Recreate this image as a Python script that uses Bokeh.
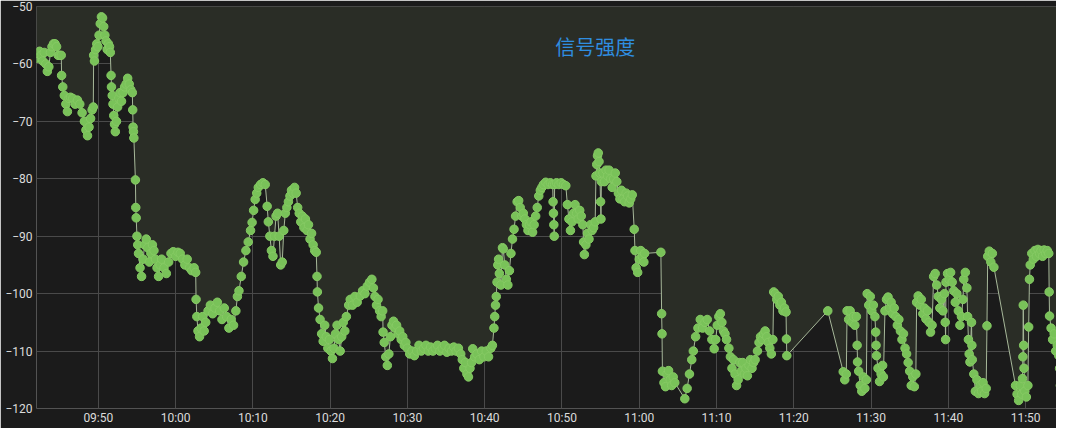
from bokeh.plotting import figure
from bokeh.models import Label, FixedTicker, Range1d
from bokeh.embed import file_html
from bokeh.resources import INLINE

# signal strength (dBm) vs minutes after 09:00
seg_0942 = [(42.0,-59.0),(42.2,-58.2),(42.4,-57.8),(42.6,-58.5),(42.8,-59.5),(43.0,-58.0),(43.2,-60.0),
            (43.4,-61.3),(43.6,-60.5),(43.8,-58.0),(44.0,-57.0),(44.2,-56.5),(44.4,-56.5),(44.6,-57.0),
            (44.8,-58.5),(45.0,-58.5),(45.2,-58.5),(45.25,-62.0),
            (45.4,-64.0),(45.6,-65.5),(45.8,-67.0),(46.0,-68.3),(46.2,-66.0),(46.4,-65.8),(46.7,-66.0),
            (47.0,-67.0),(47.3,-66.3),(47.6,-67.0),(47.9,-68.5),(48.2,-70.0),(48.4,-71.5),(48.6,-72.5),
            (48.8,-71.0),(49.0,-69.5),(49.2,-68.0),(49.35,-67.5)]
seg_0950 = [(49.4,-58.5),(49.5,-59.5),(49.65,-57.5),(49.8,-56.5),(49.95,-57.0),(50.1,-55.0),(50.25,-53.0),
            (50.4,-51.8),(50.55,-52.0),(50.7,-53.5),(50.85,-55.0),(51.0,-56.0),(51.15,-57.5),(51.3,-56.5),
            (51.45,-57.0),(51.55,-58.0),(51.65,-62.0),(51.7,-64.0),(51.8,-65.5),
            (51.9,-67.0),(52.0,-69.0),(52.1,-70.5),(52.2,-71.8),(52.35,-70.0),(52.5,-67.5),(52.65,-66.0),
            (52.8,-65.0),(53.0,-66.5),(53.2,-65.0),(53.4,-64.0),(53.6,-63.5),(53.8,-62.5),(54.0,-63.5),
            (54.2,-64.5),(54.4,-65.0),(54.45,-68.0),(54.5,-71.0),(54.55,-71.8),(54.6,-72.9),
            (54.8,-80.2),(54.85,-85.0),(54.9,-86.8),(55.0,-90.0),(55.1,-91.5)]
seg_0955 = [(55.2,-93.0),(55.4,-95.5),(55.6,-97.0),(55.8,-94.0),(56.0,-91.5),(56.2,-90.5),(56.4,-92.0),
            (56.6,-94.5),(56.8,-93.0),(57.0,-91.5),(57.2,-92.5),(57.4,-94.0),(57.6,-95.5),(57.8,-97.0),
            (58.0,-95.0),(58.2,-94.0),(58.5,-95.5),(58.8,-96.5),(59.1,-94.5),(59.4,-93.0),(59.7,-92.7),
            (60.0,-93.5),(60.3,-92.8),(60.6,-93.0),(60.9,-94.0),(61.2,-95.0),(61.5,-94.0),(61.8,-95.5),
            (62.1,-96.0),(62.4,-95.5),(62.6,-96.3),(62.65,-101.0)]
seg_1003 = [(62.75,-104.0),(62.9,-106.5),(63.1,-107.5),(63.3,-106.0),(63.5,-104.0),(63.7,-106.5),
            (63.9,-105.0),(64.2,-103.0),(64.5,-102.0),(64.8,-103.5),(65.1,-102.5),(65.4,-101.5),
            (65.7,-103.0),(66.0,-104.5),(66.3,-102.5),(66.6,-104.0),(66.9,-106.0),(67.2,-104.5),
            (67.5,-105.5),(67.8,-103.0),(68.0,-100.5),(68.2,-99.5),
            (68.5,-97.0),(68.8,-94.5),(69.1,-92.5),(69.4,-91.0),(69.7,-89.0),(69.9,-87.6),(70.1,-85.5),
            (70.3,-83.6),(70.5,-82.5),(70.7,-81.5),(71.0,-81.0),(71.3,-80.7),(71.6,-81.0),(71.85,-84.8)]
seg_1012 = [(72.0,-87.5),(72.2,-90.0),(72.4,-92.5),(72.6,-93.5),(72.8,-90.0),(73.0,-86.5),(73.2,-86.0),
            (73.4,-90.0),(73.6,-95.0),(73.8,-94.5),(74.0,-89.0),(74.2,-86.0),(74.4,-85.0),(74.6,-84.0),
            (74.8,-83.0),(75.0,-82.0),(75.2,-82.5),(75.4,-81.5),(75.6,-82.5),(75.8,-85.0),
            (76.0,-86.0),(76.2,-87.5),(76.4,-86.5),(76.6,-88.5),(76.8,-87.0),(77.0,-89.0),(77.2,-88.0),
            (77.4,-90.5),(77.6,-89.5),(77.8,-91.5),(78.0,-92.5),(78.2,-92.8),(78.3,-97.0),(78.35,-99.7)]
seg_1018 = [(78.5,-102.5),(78.7,-104.5),(78.9,-107.0),(79.1,-108.3),(79.3,-105.5),(79.5,-107.5),
            (79.7,-109.5),(79.9,-108.0),(80.1,-110.0),(80.3,-111.3),(80.5,-109.5),(80.7,-107.0),
            (80.9,-105.5),(81.1,-108.0),(81.3,-110.0),(81.5,-107.5),(81.7,-105.0),(81.9,-106.5),
            (82.1,-104.0),(82.4,-102.0),(82.6,-101.0),(82.9,-102.0),(83.2,-100.5),(83.5,-101.5),
            (83.9,-100.4),(84.2,-99.5),(84.5,-100.0),(84.8,-98.7),(85.1,-98.0),(85.4,-97.5),(85.6,-99.0),
            (85.8,-100.5),(86.0,-102.0),(86.2,-101.0),(86.4,-103.0),(86.6,-104.0),(86.8,-103.0),
            (86.85,-106.7),(87.0,-108.5),(87.2,-111.0),(87.4,-112.5),(87.6,-110.5)]
seg_1028 = [(87.8,-107.5),(88.0,-105.5),(88.2,-104.8),(88.4,-106.0),(88.6,-105.5),(88.8,-107.0),
            (89.0,-106.5),(89.2,-108.0),(89.4,-107.5),(89.6,-109.0),(89.8,-108.5),(90.0,-109.5),
            (90.3,-110.5),(90.6,-110.0),(90.9,-110.8),(91.2,-110.0),(91.5,-109.0),(91.8,-110.0),
            (92.1,-109.5),(92.4,-109.0),(92.7,-110.0),(93.0,-109.3),(93.3,-110.0),(93.6,-109.5),
            (93.9,-109.0),(94.2,-110.0),(94.5,-109.5),(94.8,-109.0),(95.1,-110.2),(95.4,-109.5),
            (95.7,-110.0),(96.0,-109.3),(96.3,-110.0),(96.6,-109.5),(96.9,-110.5),
            (97.1,-111.5),(97.3,-113.0),(97.5,-112.0),(97.7,-114.0),(97.9,-114.5),(98.1,-113.0),
            (98.3,-112.0),(98.45,-109.6),(98.7,-111.0),(99.0,-110.5),(99.3,-111.5),(99.6,-110.0),
            (99.9,-111.0),(100.2,-110.0),(100.5,-111.0),(100.8,-109.5),(101.0,-109.0)]
seg_1041 = [(101.2,-106.0),(101.3,-104.0),(101.4,-102.0),(101.5,-100.5),(101.6,-98.0),(101.7,-95.0),
            (101.8,-94.0),(101.9,-96.5),(102.1,-98.5),(102.3,-92.0),(102.4,-92.2),(102.6,-95.0),
            (102.8,-97.5),(103.0,-98.5),(103.2,-96.0),(103.4,-93.0),(103.6,-90.5),(103.8,-88.8),
            (104.0,-86.5),(104.2,-84.0),(104.4,-83.8),(104.6,-85.0),(104.8,-86.5),(105.0,-86.0),
            (105.2,-87.0),(105.4,-88.0),(105.6,-89.0),(105.8,-88.0),(106.0,-87.5),(106.2,-89.3),
            (106.4,-88.0),(106.6,-86.5),(106.8,-85.0),(107.0,-83.0),(107.2,-82.0),(107.4,-81.5)]
seg_1047 = [(107.6,-81.0),(107.9,-80.6),(108.2,-81.0),(108.5,-80.7),(108.8,-81.0),(108.85,-84.0),
            (108.9,-86.0),(108.95,-88.0),(109.0,-90.0),(109.05,-81.0),(109.3,-80.7),(109.6,-81.0),
            (109.9,-80.7),(110.2,-81.0),(110.5,-81.2),(110.7,-84.5),(110.9,-87.0),(111.1,-89.0),
            (111.3,-87.5),(111.5,-86.0),(111.7,-84.5),(111.9,-86.0),(112.1,-87.0),(112.3,-85.5),
            (112.5,-86.5),(112.7,-88.0),(112.8,-91.0),(112.9,-93.2),(113.1,-91.5),(113.3,-89.5),
            (113.5,-90.5),(113.7,-88.0),(113.9,-89.0),(114.1,-88.5),(114.3,-87.5)]
seg_1054 = [(114.4,-79.5),(114.5,-77.5),(114.6,-76.0),(114.7,-75.5),(114.8,-77.0),(114.9,-79.0),
            (115.0,-84.0),(115.05,-87.0),(115.1,-80.5),(115.3,-79.0),(115.5,-80.5),(115.7,-78.5),
            (115.9,-79.5),(116.1,-78.5),(116.3,-80.0),(116.5,-81.5),(116.7,-80.0),(116.9,-79.0),
            (117.1,-80.5),(117.3,-82.5),(117.5,-83.5),(117.7,-82.0),(117.9,-83.5),(118.1,-84.0),
            (118.3,-82.5),(118.5,-83.0),(118.7,-84.2),(118.9,-83.5),(119.1,-82.8),(119.35,-88.8),
            (119.45,-92.5),(119.6,-95.5),(119.8,-96.3),(120.0,-94.0),(120.2,-92.5),(120.4,-93.5),
            (120.6,-94.5),(120.7,-93.0),(122.8,-92.8),(122.9,-103.5),(122.95,-107.0)]
seg_1103 = [(123.0,-113.5),(123.2,-115.5),(123.4,-116.2),(123.6,-114.0),(123.8,-113.4),(124.0,-115.0),
            (124.2,-116.0),(124.4,-114.5),(124.6,-115.5),(125.9,-118.3),(126.2,-116.5),(126.5,-114.0),
            (126.8,-111.5),(127.0,-110.0),(127.3,-107.5),(127.6,-106.0),(127.9,-104.5),(128.2,-106.0),
            (128.5,-105.0),(128.8,-104.5),(129.1,-106.5),(129.4,-108.0),(129.7,-109.6),(129.9,-108.0),
            (130.1,-105.5),(130.3,-104.0),(130.5,-103.5),(130.7,-105.0),(130.9,-106.5),(131.1,-107.0),
            (131.3,-108.0),(131.6,-109.5),(131.8,-111.0),(132.0,-113.0),(132.2,-111.5),(132.4,-114.0),
            (132.6,-116.0),(132.8,-115.0),(133.0,-112.0)]
seg_1113 = [(133.2,-113.5),(133.4,-112.0),(133.6,-114.0),(133.8,-113.0),(134.0,-114.3),(134.2,-112.5),
            (134.4,-111.5),(134.6,-113.0),(134.8,-112.0),(135.0,-111.5),(135.3,-110.0),(135.5,-108.5),
            (135.7,-107.5),(135.9,-108.0),(136.1,-107.0),(136.3,-106.5),(136.5,-107.5),(136.7,-108.5),
            (136.9,-109.5),(137.1,-110.5),(137.3,-108.0),(137.4,-99.7),(137.6,-100.0),(137.8,-101.0),
            (138.0,-100.5),(138.2,-102.0),(138.4,-101.5),(138.6,-103.0),(138.8,-102.5),(139.0,-103.2),
            (139.05,-107.9),(139.1,-110.8),(144.4,-103.0),(146.4,-113.6)]
seg_1126 = [(146.6,-115.0),(146.8,-114.0),(146.9,-103.0),(147.1,-104.5),(147.3,-103.0),(147.5,-105.0),
            (147.7,-104.0),(147.9,-105.5),(148.1,-104.0),(148.2,-109.0),(148.25,-111.9),(148.4,-113.5),
            (148.6,-116.0),(148.8,-117.0),(149.0,-114.5),(149.2,-116.5),(149.4,-115.0),(149.5,-100.0),
            (149.7,-102.0),(149.9,-100.5),(150.1,-103.0),(150.3,-102.0),(150.5,-104.0),(150.6,-106.7),
            (150.65,-109.0),(150.7,-110.8),(150.9,-113.0),(151.1,-115.3),(151.3,-114.0),(151.5,-112.5),
            (151.6,-114.5),(151.8,-103.0),(152.0,-101.0),(152.2,-100.6),(152.4,-102.5),(152.6,-101.5),
            (152.8,-103.5),(153.0,-102.5),(153.2,-104.0),(153.4,-105.5),(153.6,-104.5),(153.8,-106.5),
            (154.0,-108.0),(154.2,-107.0),(154.4,-109.5),(154.6,-110.5),(154.8,-112.0)]
seg_1135 = [(155.0,-113.5),(155.2,-116.0),(155.4,-114.5),(155.6,-116.2),(155.8,-114.0),(155.9,-101.5),
            (156.1,-100.4),(156.3,-102.0),(156.5,-101.0),(156.7,-103.5),(156.9,-102.5),(157.1,-104.4),
            (157.3,-103.0),(157.5,-105.0),(157.7,-106.7),(157.9,-105.5),(158.1,-97.0),(158.3,-96.5),
            (158.5,-98.5),(158.7,-100.5),(158.9,-102.5),(159.1,-101.0),(159.3,-103.0),(159.5,-100.0),
            (159.6,-105.0),(159.65,-108.0),(159.7,-98.0),(159.9,-96.5),(160.1,-97.5),(160.3,-96.3),
            (160.5,-98.0),(160.7,-99.5),(160.9,-101.5),(161.1,-100.0),(161.3,-103.0),(161.5,-105.5),
            (161.7,-104.0),(161.9,-101.0),(162.0,-97.5),(162.2,-96.3),(162.4,-99.0),(162.5,-104.0),
            (162.6,-108.0),(162.7,-110.5),(162.8,-111.9)]
seg_1143 = [(163.0,-105.0),(163.05,-109.0),(163.1,-111.5),(163.3,-114.0),(163.5,-117.0),(163.7,-115.0),
            (163.9,-117.4),(164.1,-116.0),(164.3,-117.0),(164.5,-115.5),(164.7,-117.4),(164.9,-116.5),
            (165.0,-105.6),(165.1,-93.5),(165.3,-92.6),(165.5,-94.5),(165.7,-93.0),(165.9,-95.4),
            (168.7,-116.0),(168.9,-117.5),(169.1,-118.6),(169.3,-116.0),(169.5,-117.5),(169.6,-114.8),
            (169.65,-111.0),(169.7,-102.0),(169.75,-109.0),(169.8,-113.0),(169.9,-117.0),(170.1,-118.0),
            (170.3,-116.0),(170.4,-105.8)]
seg_1150 = [(170.5,-97.5),(170.6,-95.0),(170.8,-93.0),(171.0,-94.0),(171.2,-92.5),(171.4,-93.5),
            (171.6,-92.3),(171.8,-93.0),(172.0,-92.5),(172.2,-93.5),(172.4,-92.4),(172.6,-93.0),
            (172.8,-92.5),(173.0,-93.0),(173.05,-99.7),(173.1,-103.9),(173.3,-106.0),(173.5,-108.0),
            (173.7,-107.0),(173.9,-110.0),(174.1,-109.0),(174.3,-110.8),(174.4,-113.0),(174.5,-116.0),
            (174.6,-118.6),(174.7,-117.0),(175.2,-92.0),(175.25,-101.0),(175.3,-103.0)]

segments = [seg_0942, seg_0950, seg_0955, seg_1003, seg_1012, seg_1018, seg_1028, seg_1041,
            seg_1047, seg_1054, seg_1103, seg_1113, seg_1126, seg_1135, seg_1143, seg_1150]

tick_minutes = [50, 60, 70, 80, 90, 100, 110, 120, 130, 140, 150, 160, 170]
tick_labels = ["09:50", "10:00", "10:10", "10:20", "10:30", "10:40", "10:50",
               "11:00", "11:10", "11:20", "11:30", "11:40", "11:50"]
y_ticks = [-120, -110, -100, -90, -80, -70, -60, -50]
title_text = "信号强度"

minutes = [m for seg in segments for (m, v) in seg]
rssi = [v for seg in segments for (m, v) in seg]

BG = "#1b1b1b"
p = figure(width=1056, height=428, output_backend="svg", toolbar_location=None,
           x_range=Range1d(42.0, 174.0), y_range=Range1d(-120, -50),
           min_border_left=36, min_border_right=0, min_border_top=6, min_border_bottom=20)
p.background_fill_color = BG
p.border_fill_color = BG
p.outline_line_color = None

p.varea(x=minutes, y1=rssi, y2=-50, fill_color="#2a2d26", fill_alpha=1.0)
p.line(minutes, rssi, line_color="#a7b89a", line_width=1)
p.scatter(minutes, rssi, size=8.5, fill_color="#79c259", line_color="#86ca64", line_width=1)

p.xaxis.ticker = FixedTicker(ticks=tick_minutes)
p.xaxis.major_label_overrides = {t: l for t, l in zip(tick_minutes, tick_labels)}
p.yaxis.ticker = FixedTicker(ticks=y_ticks)
for ax in (p.xaxis, p.yaxis):
    ax.axis_line_color = None
    ax.major_tick_line_color = None
    ax.minor_tick_line_color = None
    ax.major_tick_out = 0
    ax.major_tick_in = 0
    ax.major_label_text_color = "#dcdcdc"
    ax.major_label_text_font = "Roboto"
    ax.major_label_text_font_size = "12px"
p.xaxis.major_label_standoff = 2
p.yaxis.major_label_standoff = 4

p.xgrid.ticker = FixedTicker(ticks=tick_minutes)
p.ygrid.ticker = FixedTicker(ticks=y_ticks)
for g in (p.xgrid, p.ygrid):
    g.grid_line_color = "#4a4a4a"
    g.grid_line_width = 1

p.add_layout(Label(x=114.3, y=-57.0, text=title_text, text_color="#2f8ee0",
                   text_font="Noto Sans CJK SC", text_font_size="20px",
                   text_align="center", text_baseline="middle"))

open("out.html", "w").write(file_html(p, INLINE))
